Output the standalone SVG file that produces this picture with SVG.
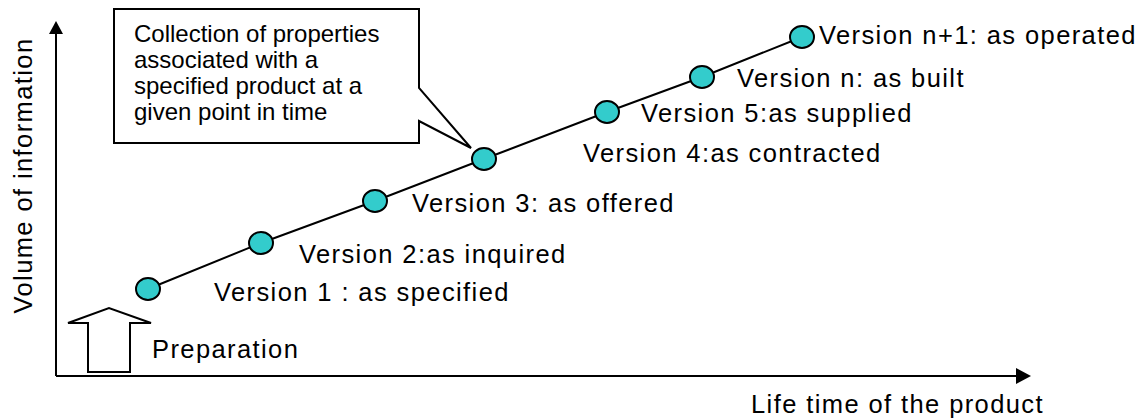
<svg xmlns="http://www.w3.org/2000/svg" width="1147" height="419" viewBox="0 0 1147 419">
<style>
text{font-family:"Liberation Sans",Arial,sans-serif;fill:#000}
.lbl{font-size:25.5px;letter-spacing:1.4px}
.box{font-size:24px;letter-spacing:0px}
.ln{stroke:#000;stroke-width:2;fill:none}
.dot{fill:#33CCCC;stroke:#000;stroke-width:2}
</style>
<rect width="1147" height="419" fill="#fff"/>
<g id="axes">
<line class="ln" x1="56" y1="376" x2="56" y2="32"/>
<polygon points="56,21 49,34 63,34" fill="#000"/>
<line class="ln" x1="56" y1="376" x2="1018" y2="376"/>
<polygon points="1031,376 1016,368 1016,384" fill="#000"/>
<text class="lbl" transform="translate(32,175.5) rotate(-90)" text-anchor="middle">Volume of information</text>
<text class="lbl" x="1044" y="413" text-anchor="end">Life time of the product</text>
</g>
<g id="preparation">
<polygon points="88,372 130,372 130,323 151,323 109,308 68,323 88,323" fill="#fff" stroke="#000" stroke-width="2"/>
<text class="lbl" x="152" y="358">Preparation</text>
</g>
<g id="connectors">
<polyline class="ln" points="148,289 261,243 375,201 484,159 607,112 702,77 802,37"/>
</g>
<g id="v1"><ellipse class="dot" cx="148" cy="289" rx="12" ry="11"/><text class="lbl" x="214" y="301">Version 1 : as specified</text></g>
<g id="v2"><ellipse class="dot" cx="261" cy="243" rx="12" ry="11"/><text class="lbl" x="299" y="263">Version 2:as inquired</text></g>
<g id="v3"><ellipse class="dot" cx="375" cy="201" rx="12" ry="11"/><text class="lbl" x="412" y="212">Version 3: as offered</text></g>
<g id="v4"><ellipse class="dot" cx="484" cy="159" rx="12" ry="11"/><text class="lbl" x="583" y="162">Version 4:as contracted</text></g>
<g id="v5"><ellipse class="dot" cx="607" cy="112" rx="12" ry="11"/><text class="lbl" x="641" y="122">Version 5:as supplied</text></g>
<g id="vn"><ellipse class="dot" cx="702" cy="77" rx="12" ry="11"/><text class="lbl" x="737" y="87">Version n: as built</text></g>
<g id="vn1"><ellipse class="dot" cx="802" cy="37" rx="12" ry="11"/><text class="lbl" x="819" y="44">Version n+1: as operated</text></g>
<g id="callout">
<polygon points="114,9 419,9 419,88 471,148 419,121 419,143 114,143" fill="#fff" stroke="#000" stroke-width="2"/>
<text class="box" x="134" y="42">Collection of properties</text>
<text class="box" x="134" y="68">associated with a</text>
<text class="box" x="134" y="94">specified product at a</text>
<text class="box" x="134" y="120">given point in time</text>
</g>
</svg>
